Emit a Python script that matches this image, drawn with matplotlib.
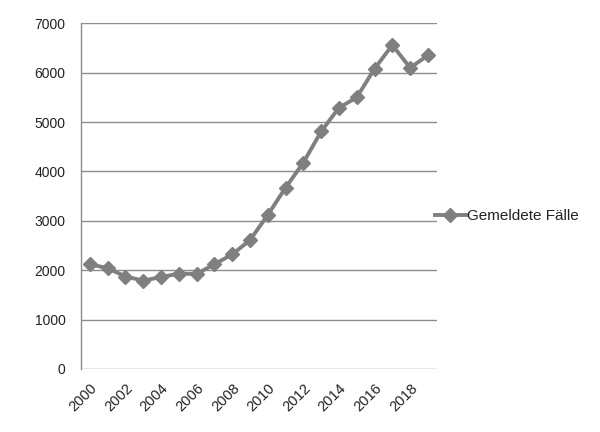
import matplotlib
matplotlib.use('Agg')
import matplotlib.pyplot as plt

years = list(range(2000, 2020))
cases = [2120, 2040, 1870, 1790, 1860, 1930, 1925, 2120, 2320, 2610,
         3120, 3670, 4180, 4810, 5290, 5500, 6080, 6560, 6100, 6350]
year_labels = [str(y) if y % 2 == 0 else '' for y in years]
y_ticks = [0, 1000, 2000, 3000, 4000, 5000, 6000, 7000]

plt.rcParams['font.family'] = ['Liberation Sans', 'DejaVu Sans']

fig = plt.figure(figsize=(6, 4.32), dpi=100)
ax = fig.add_axes([0.135, 0.146, 0.593, 0.8])

x = list(range(len(years)))
line, = ax.plot(x, cases, color='#7f7f7f', linewidth=2.8, marker='D',
                markersize=7, label='Gemeldete Fälle')

ax.set_xlim(-0.5, len(years) - 0.5)
ax.set_ylim(0, 7000)
ax.set_yticks(y_ticks)
ax.set_xticks(x)
ax.set_xticklabels(year_labels, rotation=45, ha='right', rotation_mode='anchor')
ax.tick_params(axis='y', length=0, labelsize=10, colors='#222222', pad=11)
ax.tick_params(axis='x', length=0, labelsize=10.5, colors='#222222', pad=9)

ax.grid(axis='y', color='#8c8c8c', linewidth=1)
ax.set_axisbelow(True)
for side in ['top', 'right', 'bottom']:
    ax.spines[side].set_visible(False)
ax.spines['left'].set_color('#8c8c8c')
ax.spines['left'].set_linewidth(1)

fig.legend(handles=[line], loc='center left', bbox_to_anchor=(0.702, 0.50),
           frameon=False, fontsize=11, handlelength=2.0, handletextpad=0.1,
           labelcolor='#222222')

fig.savefig('out.png', dpi=100)
